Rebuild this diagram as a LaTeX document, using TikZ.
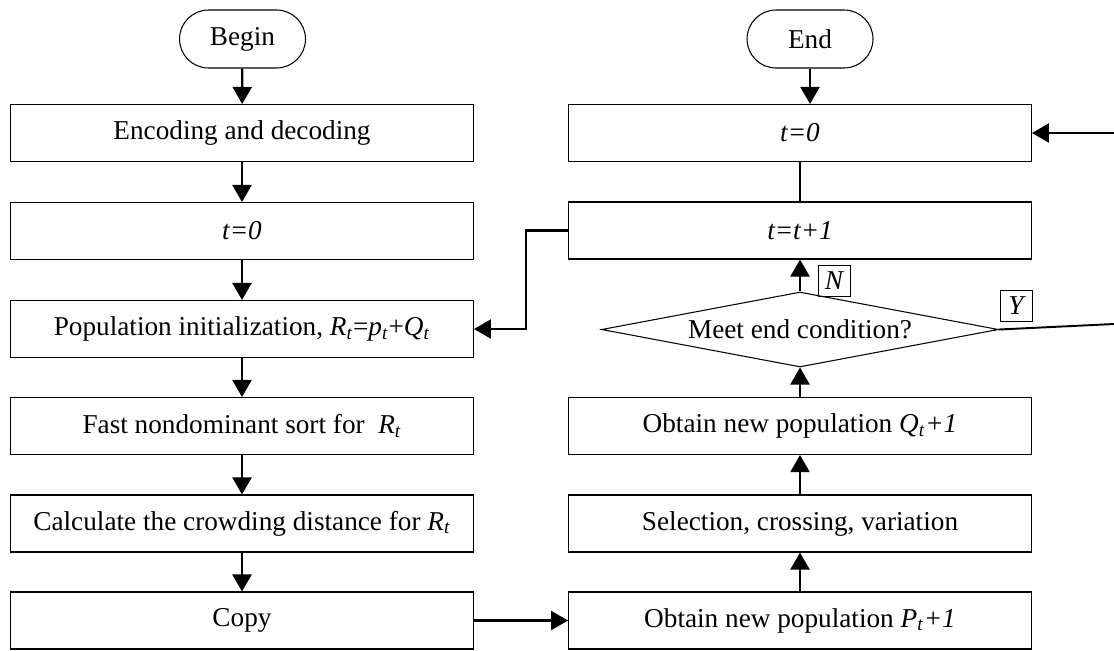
\documentclass[tikz,border=0pt]{standalone}
\usepackage{fontspec}
\setmainfont{Liberation Serif}
\usetikzlibrary{shapes.geometric,arrows.meta}

\newcommand{\vsub}[2]{\textit{#1}\textsubscript{\textit{#2}}}

\begin{document}
\begin{tikzpicture}[
    x=0.02cm, y=-0.02cm,
    font=\fontsize{15.5}{18}\selectfont,
    stepbox/.style={rectangle, draw=black, line width=0.6pt, minimum width=9.26cm, minimum height=1.14cm, inner sep=0pt},
    terminal/.style={rectangle, draw=black, line width=0.6pt, rounded corners=0.58cm, minimum width=2.52cm, minimum height=1.16cm, inner sep=0pt},
    decision/.style={diamond, draw=black, line width=0.6pt, aspect=5.3, minimum width=7.94cm, minimum height=1.5cm, inner sep=0pt},
    flag/.style={rectangle, draw=black, line width=0.5pt, minimum width=0.64cm, minimum height=0.62cm, inner sep=0pt, font=\fontsize{15.5}{18}\selectfont\itshape},
    arr/.style={-{Triangle[length=0.34cm, width=0.38cm]}, line width=1.3pt},
    plain/.style={line width=1.1pt}
]
\useasboundingbox (0,0) rectangle (1114,650);

% Left column
\node[terminal] (begin) at (242.5,39) {Begin};
\node[stepbox] (enc)   at (242,133)   {Encoding and decoding};
\node[stepbox] (t0)    at (242,231)   {\textit{t=0}};
\node[stepbox] (pop)   at (242,329)   {Population initialization, \vsub{R}{t}=\vsub{p}{t}+\vsub{Q}{t}};
\node[stepbox] (sort)  at (242,426)   {Fast nondominant sort for\ \ \vsub{R}{t}};
\node[stepbox] (crowd) at (242,523.5) {Calculate the crowding distance for \vsub{R}{t}};
\node[stepbox] (copy)  at (242,620.5) {Copy};

% Right column
\node[terminal] (end)  at (810,39)    {End};
\node[stepbox] (t0r)   at (800,133)   {\textit{t=0}};
\node[stepbox] (tt1)   at (800,230.5) {\textit{t=t+1}};
\node[decision] (cond) at (800,329.5) {Meet end condition?};
\node[stepbox] (newq)  at (800,426)   {Obtain new population \vsub{Q}{t}\textit{+1}};
\node[stepbox] (sel)   at (800,523.5) {Selection, crossing, variation};
\node[stepbox] (newp)  at (800,620.5) {Obtain new population \vsub{P}{t}\textit{+1}};

% Branch labels
\node[flag] (no)  at (834,280.5)  {N};
\node[flag] (yes) at (1016,305.5) {Y};

% Loose ends at the right border
\coordinate (back) at (1114,133);
\coordinate (exit) at (1114,324);

% Connections: left column
\foreach \a/\b in {begin/enc, enc/t0, t0/pop, pop/sort, sort/crowd, crowd/copy} {
    \draw[arr] (\a) -- (\b);
}

% Connections: right column
\foreach \a/\b in {newp/sel, sel/newq, newq/cond, cond/tt1} {
    \draw[arr] (\a) -- (\b);
}
\draw[arr] (end) -- (end |- t0r.north);
\draw[plain] (t0r) -- (tt1);

% Cross links
\draw[arr] (copy) -- (newp);
\draw[arr] (tt1.west) -- ++(-42,0) |- (pop.east);
\draw[arr] (back) -- (t0r.east);
\draw[plain] (cond.east) -- (exit);

\end{tikzpicture}
\end{document}
